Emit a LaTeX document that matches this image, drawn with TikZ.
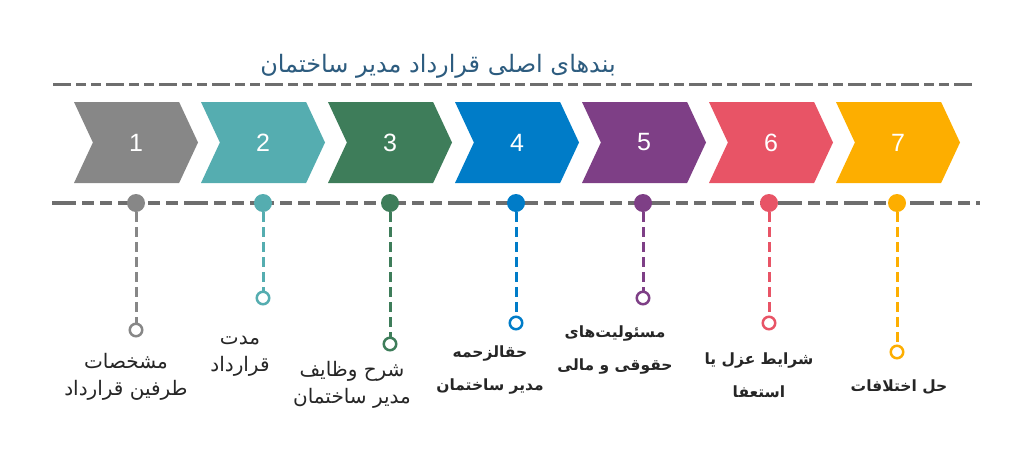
\documentclass[tikz,border=0pt]{standalone}
\usepackage{fontspec}
\setmainfont{Liberation Sans}
\newfontfamily\arabicfont[Script=Arabic]{DejaVu Sans}
\TeXXeTstate=1
\usepackage{xcolor}
\usetikzlibrary{shapes.symbols}

\definecolor{cgray}{RGB}{135,135,135}
\definecolor{cteal}{RGB}{85,173,176}
\definecolor{cgreen}{RGB}{62,125,90}
\definecolor{cblue}{RGB}{0,124,200}
\definecolor{cpurple}{RGB}{126,63,134}
\definecolor{cred}{RGB}{232,84,102}
\definecolor{corange}{RGB}{253,174,0}
\definecolor{linegray}{RGB}{110,110,110}
\definecolor{titleblue}{RGB}{45,92,127}

\begin{document}
\begin{tikzpicture}[x=1pt,y=-1pt,
    chevron/.style={signal, signal to=east, signal from=west, signal pointer angle=130,
        minimum width=124pt, minimum height=81pt, inner sep=0pt, fill=#1, draw=none,
        text=white, font=\fontsize{25}{25}\selectfont},
    dotnode/.style={circle, fill=#1, inner sep=0pt, minimum size=18pt},
    ringnode/.style={circle, draw=#1, line width=2.5pt, fill=white, inner sep=0pt, minimum size=12.5pt},
    stem/.style={draw=#1, line width=3pt, dash pattern=on 10pt off 5pt},
    bigtext/.style={align=center, text=black!85, font=\arabicfont\fontsize{20}{27}\selectfont},
    smalltext/.style={align=center, text=black!85, font=\arabicfont\bfseries\fontsize{15.5}{33}\selectfont}]
            \useasboundingbox (0,0) rectangle (1023,453);

            % title and top line
            \node[text=titleblue, font=\arabicfont\fontsize{24}{24}\selectfont] (title) at (438,66) {\beginR بندهای اصلی قرارداد مدیر ساختمان\endR};
            \coordinate (T1) at (53,84);
            \coordinate (T2) at (975,84);
            \draw[linegray, line width=3pt, dash pattern=on 18pt off 5pt on 10pt off 5pt on 10pt off 5pt] (T1) -- (T2);

            % chevrons
            \node[chevron=cgray] (C1) at (136,142.5) {1};
            \node[chevron=cteal] (C2) at (263,142.5) {2};
            \node[chevron=cgreen] (C3) at (390,142.5) {3};
            \node[chevron=cblue] (C4) at (517,142.5) {4};
            \node[chevron=cpurple] (C5) at (644,142.5) {5};
            \node[chevron=cred] (C6) at (771,142.5) {6};
            \node[chevron=corange] (C7) at (898,142.5) {7};

            % middle line
            \coordinate (M1) at (52,203);
            \coordinate (M2) at (980,203);
            \draw[linegray, line width=4pt, dash pattern=on 24pt off 6pt on 12pt off 6pt on 12pt off 6pt] (M1) -- (M2);

            \node[dotnode=cgray] (D1) at (136,203) {};
            \node[dotnode=cteal] (D2) at (263,203) {};
            \node[dotnode=cgreen] (D3) at (390,203) {};
            \node[dotnode=cblue] (D4) at (516,203) {};
            \node[dotnode=cpurple] (D5) at (643,203) {};
            \node[dotnode=cred] (D6) at (769,203) {};
            \node[dotnode=corange] (D7) at (897,203) {};

            \node[ringnode=cgray] (R1) at (136,330) {};
            \node[ringnode=cteal] (R2) at (263,298) {};
            \node[ringnode=cgreen] (R3) at (390,344) {};
            \node[ringnode=cblue] (R4) at (516,323) {};
            \node[ringnode=cpurple] (R5) at (643,298) {};
            \node[ringnode=cred] (R6) at (769,323) {};
            \node[ringnode=corange] (R7) at (897,352) {};

            \draw[stem=cgray] (D1) -- (R1);
            \draw[stem=cteal] (D2) -- (R2);
            \draw[stem=cgreen] (D3) -- (R3);
            \draw[stem=cblue] (D4) -- (R4);
            \draw[stem=cpurple] (D5) -- (R5);
            \draw[stem=cred] (D6) -- (R6);
            \draw[stem=corange] (D7) -- (R7);

            % labels
            \node[bigtext] (L1) at (126,377) {\beginR مشخصات\endR\\\beginR طرفین قرارداد\endR};
            \node[bigtext] (L2) at (240,356) {\beginR مدت\endR\\\beginR قرارداد\endR};
            \node[bigtext] (L3) at (352,385) {\beginR شرح وظایف\endR\\\beginR مدیر ساختمان\endR};
            \node[smalltext] (L4) at (490,370) {\beginR حقالزحمه\endR\\\beginR مدیر ساختمان\endR};
            \node[smalltext] (L5) at (615,350) {\beginR مسئولیت‌های\endR\\\beginR حقوقی و مالی\endR};
            \node[smalltext] (L6) at (759,375) {\beginR شرایط عزل یا\endR\\\beginR استعفا\endR};
            \node[smalltext] (L7) at (899,387) {\beginR حل اختلافات\endR};

        \end{tikzpicture}
\end{document}
